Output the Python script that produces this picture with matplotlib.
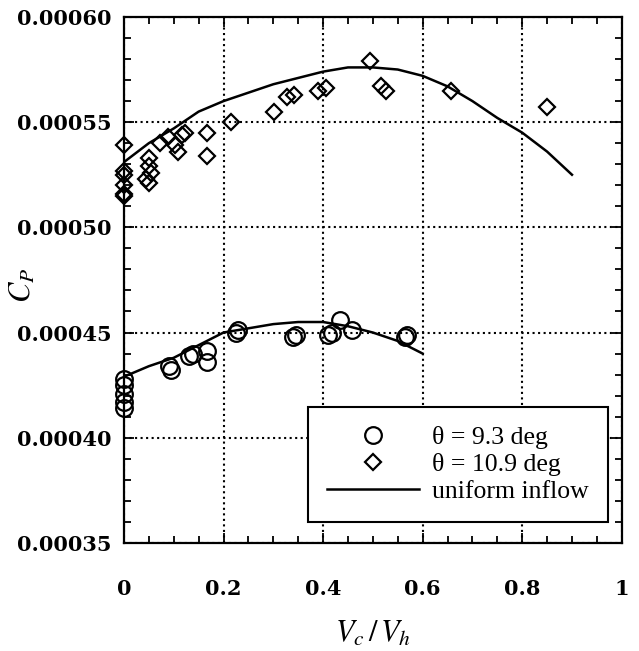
import matplotlib.pyplot as plt
import numpy as np
from matplotlib.ticker import MultipleLocator

plt.rcParams['mathtext.fontset'] = 'stix'

# theta = 9.3 deg (circles)
x_93 = [0, 0, 0, 0, 0, 0.09, 0.095, 0.13, 0.138, 0.166, 0.166,
        0.226, 0.23, 0.34, 0.345, 0.41, 0.418, 0.434, 0.458, 0.564, 0.568]
cp_93 = [0.000428, 0.000425, 0.000421, 0.000417, 0.000414, 0.000434, 0.000432,
         0.000439, 0.000440, 0.000441, 0.000436,
         0.000450, 0.000451, 0.000448, 0.000449, 0.000449, 0.000450,
         0.000456, 0.000451, 0.000448, 0.000449]

# theta = 10.9 deg (diamonds)
x_109 = [0, 0, 0, 0, 0, 0, 0.05, 0.05, 0.055, 0.045, 0.05,
         0.072, 0.088, 0.102, 0.108, 0.116, 0.122, 0.166, 0.166, 0.216,
         0.302, 0.328, 0.342, 0.39, 0.406, 0.494, 0.516, 0.526, 0.656, 0.85]
cp_109 = [0.000539, 0.000527, 0.000525, 0.000520, 0.000516, 0.000515,
          0.000533, 0.000529, 0.000526, 0.000523, 0.000521,
          0.000540, 0.000543, 0.000539, 0.000536, 0.000544, 0.000545,
          0.000545, 0.000534, 0.000550,
          0.000555, 0.000562, 0.000563, 0.000565, 0.000566, 0.000579,
          0.000567, 0.000565, 0.000565, 0.000557]

# uniform inflow theory
x_u1 = [0, 0.05, 0.1, 0.15, 0.2, 0.25, 0.3, 0.35, 0.4, 0.45, 0.5,
        0.55, 0.6, 0.65, 0.7, 0.75, 0.8, 0.85, 0.9]
cp_u1 = [0.000531, 0.000540, 0.000547, 0.000555, 0.000560, 0.000564, 0.000568,
         0.000571, 0.000574, 0.000576, 0.000576, 0.000575, 0.000572, 0.000567,
         0.000560, 0.000552, 0.000545, 0.000536, 0.000525]
x_u2 = [0, 0.05, 0.1, 0.15, 0.2, 0.25, 0.3, 0.35, 0.4, 0.45, 0.5, 0.55, 0.6]
cp_u2 = [0.000429, 0.000434, 0.000438, 0.000444, 0.000450, 0.000452, 0.000454,
         0.000455, 0.000455, 0.000453, 0.000450, 0.000446, 0.000440]

xticks = [0, 0.2, 0.4, 0.6, 0.8, 1]
xlabels = ['0', '0.2', '0.4', '0.6', '0.8', '1']
yticks = [0.00035, 0.00040, 0.00045, 0.00050, 0.00055, 0.00060]
ylabels = ['0.00035', '0.00040', '0.00045', '0.00050', '0.00055', '0.00060']

fig = plt.figure(figsize=(6.39, 6.51), dpi=100)
ax = fig.add_axes([0.194, 0.166, 0.779, 0.808])

ax.plot(x_u1, cp_u1, color='black', lw=1.8, label='uniform inflow')
ax.plot(x_u2, cp_u2, color='black', lw=1.8)
ax.plot(x_93, cp_93, 'o', ms=12, mfc='none', mec='black', mew=1.6,
        label='θ = 9.3 deg', clip_on=False)
ax.plot(x_109, cp_109, 'D', ms=8, mfc='none', mec='black', mew=1.6,
        label='θ = 10.9 deg', clip_on=False)

ax.set_xlim(0, 1)
ax.set_ylim(0.00035, 0.0006)
ax.set_xticks(xticks)
ax.set_xticklabels(xlabels)
ax.set_yticks(yticks)
ax.set_yticklabels(ylabels)
ax.xaxis.set_minor_locator(MultipleLocator(0.05))
ax.yaxis.set_minor_locator(MultipleLocator(0.00001))
ax.tick_params(which='both', direction='in', top=True, right=True, width=1.3)
ax.tick_params(which='major', length=7)
ax.tick_params(which='minor', length=5)
ax.tick_params(axis='x', pad=26)
ax.tick_params(axis='y', pad=9)
for lab in ax.get_xticklabels() + ax.get_yticklabels():
    lab.set_fontfamily('DejaVu Serif')
    lab.set_fontweight('bold')
    lab.set_fontsize(15)
for s in ax.spines.values():
    s.set_linewidth(1.6)

ax.grid(True, which='major', color='black', linestyle=':', linewidth=1.5)

ax.set_xlabel(r'$V_c\,/\,V_h$', fontsize=22, labelpad=14)
ax.set_ylabel(r'$C_P$', fontsize=22)
ax.yaxis.set_label_coords(-0.175, 0.49)

h, l = ax.get_legend_handles_labels()
leg = ax.legend([h[1], h[2], h[0]], [l[1], l[2], l[0]], loc='lower right',
                bbox_to_anchor=(0.973, 0.04), fancybox=False, framealpha=1,
                edgecolor='black', handlelength=3.6, borderpad=0.75,
                borderaxespad=0, labelspacing=0.15, handletextpad=0.5,
                prop={'family': 'Liberation Serif', 'size': 18.5})
leg.get_frame().set_linewidth(1.5)

fig.savefig('out.png', dpi=100)
